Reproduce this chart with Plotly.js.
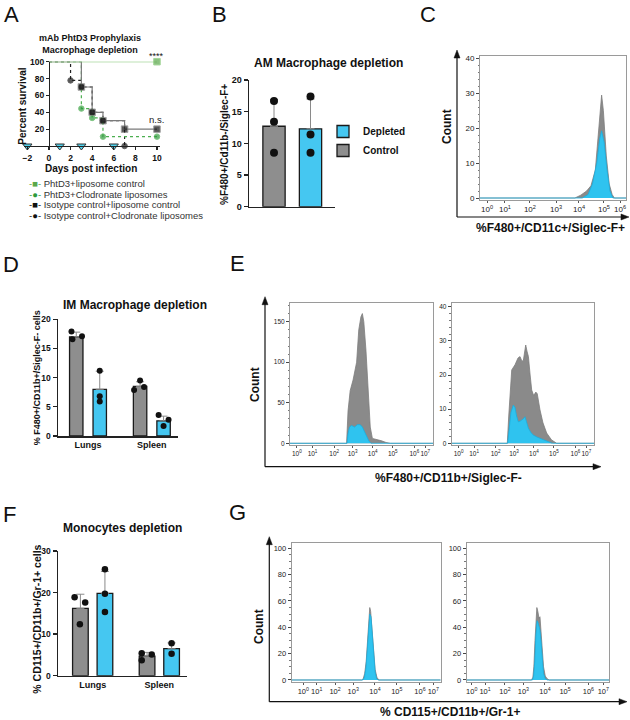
<!DOCTYPE html>
<html>
<head>
<meta charset="utf-8">
<script src="https://cdn.plot.ly/plotly-3.0.1.min.js"></script>
<style>body{margin:0;background:#fff}#fig{width:630px;height:720px}</style>
</head>
<body>
<div id="fig"></div>
<script>
// ---- A: survival (percent) ----
const phtdLipoDays = [0, 10];
const phtdLipoSurv = [100, 100];
const phtdClodDays = [0, 3, 4, 5, 10];
const phtdClodSurv = [100, 44.4, 33.3, 11.1, 11.1];
const isoLipoDays = [0, 3, 4, 5, 7, 10];
const isoLipoSurv = [100, 70, 40, 30, 20, 20];
const isoClodDays = [0, 2, 3, 4, 5, 7];
const isoClodSurv = [100, 77.8, 70, 40, 30, 0];
const treatDays = [-2, 1, 3, 6];
const survLegend = ['PhtD3+liposome control', 'PhtD3+Clodronate liposomes',
  'Isotype control+liposome control', 'Isotype control+Clodronate liposomes'];

// ---- B: AM macrophages ----
const amGroups = ['Depleted', 'Control'];
const amMean = [12.3, 12.7];
const amSd = [4.7, 4.2];
const amDeplPts = [17.4, 11.4, 8.5];
const amCtrlPts = [16.7, 13.4, 8.5];

// ---- D: IM macrophages ----
const organs = ['Lungs', 'Spleen'];
const imCtrlMean = [17.0, 8.5];
const imCtrlSd = [0.8, 0.8];
const imDeplMean = [8.0, 2.6];
const imDeplSd = [3.1, 0.8];
const imCtrlLungs = [17.9, 16.6, 17.1];
const imCtrlSpleen = [7.9, 9.5, 8.4];
const imDeplLungs = [11.2, 6.8, 5.9];
const imDeplSpleen = [3.6, 1.7, 2.8];

// ---- F: monocytes ----
const monoCtrlMean = [16.2, 4.7];
const monoCtrlSd = [3.4, 0.9];
const monoDeplMean = [19.8, 6.5];
const monoDeplSd = [5.3, 1.4];
const monoCtrlLungs = [18.9, 17.6, 12.4];
const monoCtrlSpleen = [5.4, 3.7, 5.1];
const monoDeplLungs = [25.6, 19.7, 15.3];
const monoDeplSpleen = [7.8, 5.3];

// ---- flow histograms (x in display channels 0-1000) ----
const flowTickText = ['10<sup>0</sup>', '10<sup>1</sup>', '10<sup>2</sup>', '10<sup>3</sup>',
  '10<sup>4</sup>', '10<sup>5</sup>', '10<sup>6</sup>', '10<sup>7</sup>'];
const ticksC = [48, 171, 342, 521, 678, 849, 959];
const ticksE = [48, 157, 308, 437, 577, 717, 868, 944];
const ticksGL = [78, 168, 291, 413, 559, 705, 861, 950];
const ticksGR = [35, 129, 269, 398, 550, 691, 855, 960];

const cCtrlX = [0, 650, 690, 730, 760, 790, 810, 825, 833, 845, 865, 885, 905, 920, 1000];
const cCtrlY = [0, 0, 0.8, 2, 3.5, 8, 18, 27, 29.4, 25, 12, 4, 1, 0, 0];
const cDeplX = [0, 700, 740, 770, 800, 820, 833, 850, 870, 890, 910, 1000];
const cDeplY = [0, 0, 1, 4, 10, 17, 19.2, 16, 8, 2, 0, 0];

const eLCtrlX = [0, 395, 405, 420, 440, 465, 480, 495, 505, 515, 530, 545, 560, 575, 600, 640, 670, 700, 1000];
const eLCtrlY = [0, 0, 40, 65, 78, 100, 140, 156, 160, 150, 115, 65, 20, 6, 5, 3, 1, 0, 0];
const eLDeplX = [0, 398, 405, 415, 430, 450, 470, 490, 505, 520, 535, 550, 565, 1000];
const eLDeplY = [0, 0, 12, 20, 22, 20, 23, 23, 20, 14, 8, 3, 0, 0];
const eRCtrlX = [0, 390, 400, 412, 421, 444, 465, 479, 493, 503, 512, 519, 528, 538, 550, 561, 575, 590, 600, 608, 619, 640, 666, 700, 736, 1000];
const eRCtrlY = [0, 0, 8, 18, 21.5, 23, 25, 25.4, 24, 24.4, 27, 28.8, 27, 25.4, 20, 15.6, 14, 15, 14.5, 12, 9.8, 6, 3, 1, 0, 0];
const eRDeplX = [0, 392, 400, 415, 432, 444, 455, 467, 480, 491, 503, 514, 525, 538, 555, 572, 600, 640, 680, 705, 1000];
const eRDeplY = [0, 0, 3, 9, 11.2, 10.5, 8, 6.3, 6.5, 6.8, 7.2, 7.8, 6, 4.4, 3.2, 2.4, 1.8, 1.2, 0.6, 0, 0];

const gLCtrlX = [0, 470, 480, 490, 500, 510, 518, 524, 530, 540, 550, 560, 572, 585, 1000];
const gLCtrlY = [0, 0, 1, 5, 14, 30, 48, 55, 52, 38, 20, 8, 2, 0, 0];
const gLDeplX = [0, 478, 488, 498, 508, 516, 524, 532, 540, 550, 560, 570, 580, 1000];
const gLDeplY = [0, 0, 2, 9, 24, 42, 50, 48, 36, 18, 6, 1, 0, 0];
const gRCtrlX = [0, 455, 465, 472, 480, 487, 493, 500, 508, 515, 522, 530, 540, 552, 565, 580, 1000];
const gRCtrlY = [0, 0, 2, 10, 30, 50, 55, 52, 47, 48, 40, 25, 10, 3, 1, 0, 0];
const gRDeplX = [0, 462, 470, 478, 486, 494, 500, 508, 515, 522, 530, 540, 552, 565, 1000];
const gRDeplY = [0, 0, 3, 14, 34, 45, 44, 40, 38, 30, 16, 5, 1, 0, 0];

// ---- styling ----
const FONT = 'Liberation Sans, Arial, sans-serif';
const GRAY = '#8e8e8e', BLUE = '#45c7f1';
const HIST_GRAY = '#8a8a8a', HIST_BLUE = '#2fc3ef';
const PX = v => v / 630;
const PY = v => 1 - v / 720;
const BAR_OFF = 0.184;

function survTrace(days, surv, color, dash, symbol, mcolor, msize) {
  return {
    type: 'scatter', mode: 'lines+markers', x: days, y: surv, xaxis: 'x', yaxis: 'y',
    line: { shape: 'hv', color: color, dash: dash, width: 1.2 },
    marker: { symbol: symbol, color: mcolor, size: days.map((d, i) => i === 0 ? 0 : msize) },
    cliponaxis: false, showlegend: false, hoverinfo: 'skip'
  };
}

function bars(xa, ya, means, sds, offset, color, width, name, legend) {
  return {
    type: 'bar', name: name, x: means.map((m, i) => i + offset), y: means, width: width,
    xaxis: xa, yaxis: ya,
    marker: { color: color, line: { color: '#1a1a1a', width: 1.3 } },
    error_y: { type: 'data', symmetric: false, array: sds, arrayminus: sds.map(() => 0),
      color: '#8a8a8a', thickness: 1, width: 4 },
    showlegend: !!legend, legend: legend || 'legend', hoverinfo: 'skip'
  };
}

function dots(xa, ya, xc, vals, jit, size) {
  return {
    type: 'scatter', mode: 'markers', x: vals.map((v, i) => xc + (jit ? jit[i] : 0)), y: vals,
    xaxis: xa, yaxis: ya, marker: { color: '#111', size: size },
    cliponaxis: false, showlegend: false, hoverinfo: 'skip'
  };
}

function hist(xa, ya, xs, ys, fill, line) {
  return {
    type: 'scatter', mode: 'lines', x: xs, y: ys, xaxis: xa, yaxis: ya,
    fill: 'tozeroy', fillcolor: fill, line: { color: line, width: 0.8 },
    showlegend: false, hoverinfo: 'skip'
  };
}

const data = [
  // A
  survTrace(isoClodDays, isoClodSurv, '#222', 'dot', 'circle', '#111', 5.5),
  survTrace(phtdClodDays, phtdClodSurv, '#4caf50', 'dot', 'circle', '#2e9a3c', 5.5),
  survTrace(isoLipoDays, isoLipoSurv, '#7a7a7a', 'solid', 'square', '#111', 6.5),
  survTrace(phtdLipoDays, phtdLipoSurv, '#7cc46c', 'solid', 'square', '#5aa84a', 6.5),
  {
    type: 'scatter', mode: 'markers', x: treatDays, y: treatDays.map(() => 0), xaxis: 'x', yaxis: 'y',
    marker: { symbol: 'triangle-down', size: 8, color: '#4fd3ee', line: { color: '#333', width: 1 } },
    cliponaxis: false, showlegend: false, hoverinfo: 'skip'
  },
  // B
  bars('x2', 'y2', [amMean[0]], [amSd[0]], 1, BLUE, 0.61, amGroups[0], 'legend2'),
  bars('x2', 'y2', [amMean[1]], [amSd[1]], 0, GRAY, 0.61, amGroups[1], 'legend2'),
  dots('x2', 'y2', 0, amCtrlPts, null, 8),
  dots('x2', 'y2', 1, amDeplPts, null, 8),
  // C
  hist('x3', 'y3', cCtrlX, cCtrlY, HIST_GRAY, '#7d7d7d'),
  hist('x3', 'y3', cDeplX, cDeplY, HIST_BLUE, '#1aaedf'),
  // D
  bars('x4', 'y4', imCtrlMean, imCtrlSd, -BAR_OFF, GRAY, 0.21),
  bars('x4', 'y4', imDeplMean, imDeplSd, BAR_OFF, BLUE, 0.21),
  dots('x4', 'y4', -BAR_OFF, imCtrlLungs, [-0.075, -0.06, 0.09], 6),
  dots('x4', 'y4', 1 - BAR_OFF, imCtrlSpleen, [-0.094, 0, 0.062], 6),
  dots('x4', 'y4', BAR_OFF, imDeplLungs, null, 6),
  dots('x4', 'y4', 1 + BAR_OFF, imDeplSpleen, [-0.078, 0, 0.078], 6),
  // E
  hist('x5', 'y5', eLCtrlX, eLCtrlY, HIST_GRAY, '#7d7d7d'),
  hist('x5', 'y5', eLDeplX, eLDeplY, HIST_BLUE, '#1aaedf'),
  hist('x6', 'y6', eRCtrlX, eRCtrlY, HIST_GRAY, '#7d7d7d'),
  hist('x6', 'y6', eRDeplX, eRDeplY, HIST_BLUE, '#1aaedf'),
  // F
  bars('x7', 'y7', monoCtrlMean, monoCtrlSd, -BAR_OFF, GRAY, 0.235),
  bars('x7', 'y7', monoDeplMean, monoDeplSd, BAR_OFF, BLUE, 0.235),
  dots('x7', 'y7', -BAR_OFF, monoCtrlLungs, [-0.087, 0.072, -0.008], 6.5),
  dots('x7', 'y7', 1 - BAR_OFF, monoCtrlSpleen, [-0.08, -0.08, 0.07], 6.5),
  dots('x7', 'y7', BAR_OFF, monoDeplLungs, null, 6.5),
  dots('x7', 'y7', 1 + BAR_OFF, monoDeplSpleen, null, 6.5),
  // G
  hist('x8', 'y8', gLCtrlX, gLCtrlY, HIST_GRAY, '#7d7d7d'),
  hist('x8', 'y8', gLDeplX, gLDeplY, HIST_BLUE, '#1aaedf'),
  hist('x9', 'y9', gRCtrlX, gRCtrlY, HIST_GRAY, '#7d7d7d'),
  hist('x9', 'y9', gRDeplX, gRDeplY, HIST_BLUE, '#1aaedf')
];

const boldTick = size => ({ family: FONT, size: size, weight: 'bold', color: '#111' });

function barY(dom, anchor, range, dtick, size) {
  return {
    domain: [PY(dom[0]), PY(dom[1])], range: range, anchor: anchor, dtick: dtick, tick0: 0,
    ticks: 'outside', ticklen: 4, tickwidth: 1.3, tickcolor: '#222',
    showline: true, linecolor: '#222', linewidth: 1.5,
    tickfont: boldTick(size), showgrid: false, zeroline: false
  };
}
function barX(dom, anchor, range, labels, size) {
  const ax = {
    domain: [PX(dom[0]), PX(dom[1])], range: range, anchor: anchor,
    showline: true, linecolor: '#222', linewidth: 1.5, ticks: '',
    showgrid: false, zeroline: false
  };
  if (labels) {
    Object.assign(ax, { tickmode: 'array', tickvals: labels.map((l, i) => i), ticktext: labels,
      tickfont: boldTick(size) });
  } else {
    ax.showticklabels = false;
  }
  return ax;
}
function flowX(dom, anchor, ticks, size) {
  return {
    domain: [PX(dom[0]), PX(dom[1])], range: [0, 1000], anchor: anchor,
    tickmode: 'array', tickvals: ticks, ticktext: flowTickText.slice(0, ticks.length), tickangle: 0,
    showline: true, mirror: true, linecolor: '#9a9a9a', linewidth: 1,
    ticks: 'outside', ticklen: 2, tickcolor: '#555',
    tickfont: { family: FONT, size: size, color: '#222' }, showgrid: false, zeroline: false
  };
}
function flowY(dom, anchor, range, dtick, minor, size) {
  return {
    domain: [PY(dom[0]), PY(dom[1])], range: range, anchor: anchor, dtick: dtick, tick0: 0,
    showline: true, mirror: true, linecolor: '#9a9a9a', linewidth: 1,
    ticks: 'outside', ticklen: 3, tickcolor: '#444',
    minor: { dtick: minor, ticks: 'outside', ticklen: 1.5, tickcolor: '#777' },
    tickfont: { family: FONT, size: size, color: '#222' }, showgrid: false, zeroline: false
  };
}

function txt(text, x, y, size, extra) {
  return Object.assign({
    text: text, x: PX(x), y: PY(y), xref: 'paper', yref: 'paper', showarrow: false,
    xanchor: 'center', yanchor: 'middle',
    font: { family: FONT, size: size, weight: 'bold', color: '#111' }
  }, extra || {});
}

// outer axis arrows for the flow panels: a line plus a filled head
function arrowShapes(x0, y0, x1, y1) {
  const vertical = x0 === x1;
  const head = vertical
    ? [[x1 - 3, y1 + 8], [x1, y1], [x1 + 3, y1 + 8]]
    : [[x1 - 8, y1 - 3], [x1, y1], [x1 - 8, y1 + 3]];
  const path = 'M' + head.map(p => PX(p[0]) + ',' + PY(p[1])).join(' L') + ' Z';
  return [
    { type: 'line', xref: 'paper', yref: 'paper', x0: PX(x0), y0: PY(y0),
      x1: PX(vertical ? x1 : x1 - 6), y1: PY(vertical ? y1 + 6 : y1), line: { color: '#111', width: 1.2 } },
    { type: 'path', xref: 'paper', yref: 'paper', path: path, fillcolor: '#111', line: { color: '#111', width: 0.5 } }
  ];
}

const thin = { family: FONT, size: 22, weight: 'normal', color: '#111' };
const legSym = ['<span style="color:#5aa84a">-■-</span>', '<span style="color:#2e9a3c">-●-</span>',
  '<span style="color:#111">-■-</span>', '<span style="color:#111">-●-</span>'];
const legY = [183.3, 194.3, 204.8, 215.7];

const annotations = [
  // panel letters
  txt('A', 11, 14, 22, { font: thin }),
  txt('B', 219, 14, 22, { font: thin }),
  txt('C', 428, 14, 22, { font: thin }),
  txt('D', 11, 264, 22, { font: thin }),
  txt('E', 237, 263, 22, { font: thin }),
  txt('F', 9, 514, 22, { font: thin }),
  txt('G', 237, 512, 22, { font: thin }),
  // A
  txt('mAb PhtD3 Prophylaxis<br>Macrophage depletion', 90, 44, 9),
  txt('Percent survival', 21.7, 106, 10, { textangle: -90 }),
  txt('Days post infection', 91, 168, 10),
  { text: '****', x: 10, y: 100, xref: 'x', yref: 'y', showarrow: false, yanchor: 'bottom', yshift: -1,
    font: { family: FONT, size: 9, color: '#111' } },
  { text: 'n.s.', x: 10, y: 20, xref: 'x', yref: 'y', showarrow: false, yanchor: 'bottom', yshift: 2,
    font: { family: FONT, size: 9.5, color: '#222' } },
  // B
  txt('AM Macrophage depletion', 328, 63, 12),
  txt('%F480+/Cd11b-/Siglec-F+', 225, 145, 10, { textangle: -90 }),
  // C
  txt('Count', 447, 127, 12, { textangle: -90 }),
  txt('%F480+/CD11c+/Siglec-F+', 550, 228, 12),
  // D
  txt('IM Macrophage depletion', 135, 305, 12),
  txt('% F480+/CD11b+/Siglec-F- cells', 36.7, 377.5, 9, { textangle: -90 }),
  // E
  txt('Count', 255, 385, 12, { textangle: -90 }),
  txt('%F480+/CD11b+/Siglec-F-', 448, 478, 12),
  // F
  txt('Monocytes depletion', 122.5, 528, 12),
  txt('% CD115+/CD11b+/Gr-1+ cells', 36.7, 619, 10.5, { textangle: -90 }),
  // G
  txt('Count', 258.3, 626.7, 12, { textangle: -90 }),
  txt('% CD115+/CD11b+/Gr-1+', 450, 712, 12)
].concat(survLegend.map((name, i) =>
  txt(legSym[i] + ' ' + name, 27, legY[i], 9.5,
    { xanchor: 'left', font: { family: FONT, size: 9.5, weight: 'normal', color: '#333' } })));

const shapes = [].concat(
  arrowShapes(457, 217, 457, 50), arrowShapes(457, 217, 629, 217),
  arrowShapes(265, 466.7, 265, 296.7), arrowShapes(265, 466.7, 601, 466.7),
  arrowShapes(269.3, 701.7, 269.3, 536.7), arrowShapes(269.3, 701.7, 627, 701.7)
);

const layout = {
  width: 630, height: 720,
  margin: { l: 0, r: 0, t: 0, b: 0 },
  paper_bgcolor: '#fff', plot_bgcolor: 'rgba(0,0,0,0)',
  font: { family: FONT, size: 10, color: '#111' },
  barmode: 'overlay', hovermode: false, showlegend: true,
  legend2: {
    x: PX(323), y: PY(117), xanchor: 'left', yanchor: 'top', bgcolor: 'rgba(0,0,0,0)',
    font: { family: FONT, size: 10, weight: 'bold', color: '#111' }, itemclick: false
  },
  // A
  xaxis: {
    domain: [PX(24), PX(160)], range: [-2.31, 10.28], anchor: 'y',
    tickvals: [-2, 0, 2, 4, 6, 8, 10], ticks: 'outside', ticklen: 3, tickwidth: 1.2, tickcolor: '#222',
    showline: true, linecolor: '#222', linewidth: 1.3, tickfont: boldTick(8.5),
    showgrid: false, zeroline: false
  },
  yaxis: {
    domain: [PY(146), PY(61.7)], range: [0, 100], anchor: 'free', position: PX(49),
    tickvals: [20, 40, 60, 80, 100], ticks: 'outside', ticklen: 3, tickwidth: 1.2, tickcolor: '#222',
    showline: true, linecolor: '#222', linewidth: 1.3, tickfont: boldTick(8.5),
    showgrid: false, zeroline: false
  },
  // B
  xaxis2: barX([249, 335], 'y2', [-0.685, 1.671], null),
  yaxis2: barY([206.7, 80], 'x2', [0, 20], 5, 9),
  // C
  xaxis3: flowX([480, 626], 'y3', ticksC, 8),
  yaxis3: flowY([199.5, 56], 'x3', [-0.43, 40.57], 10, 2, 8),
  // D
  xaxis4: barX([58, 178], 'y4', [-0.47, 1.41], organs, 9),
  yaxis4: barY([436, 319.3], 'x4', [0, 20], 5, 8.5),
  // E
  xaxis5: flowX([290, 433.3], 'y5', ticksE, 6.5),
  yaxis5: flowY([445, 302.7], 'x5', [-2.1, 173.4], 50, 10, 6.5),
  xaxis6: flowX([451.7, 594.3], 'y6', ticksE, 6.5),
  yaxis6: flowY([445, 302.7], 'x6', [-0.5, 41.2], 10, 2, 6.5),
  // F
  xaxis7: barX([58, 187], 'y7', [-0.52, 1.415], organs, 9),
  yaxis7: barY([675.7, 551], 'x7', [0, 30], 10, 8.5),
  // G
  xaxis8: flowX([291.7, 440.7], 'y8', ticksGL, 7.5),
  yaxis8: flowY([681.7, 543.3], 'x8', [-1.3, 103.8], 20, 5, 7.5),
  xaxis9: flowX([466.7, 609], 'y9', ticksGR, 7.5),
  yaxis9: flowY([681.7, 543.3], 'x9', [-1.3, 103.8], 20, 5, 7.5),
  annotations: annotations,
  shapes: shapes
};

Plotly.newPlot('fig', data, layout, { staticPlot: true, displayModeBar: false });
</script>
</body>
</html>
